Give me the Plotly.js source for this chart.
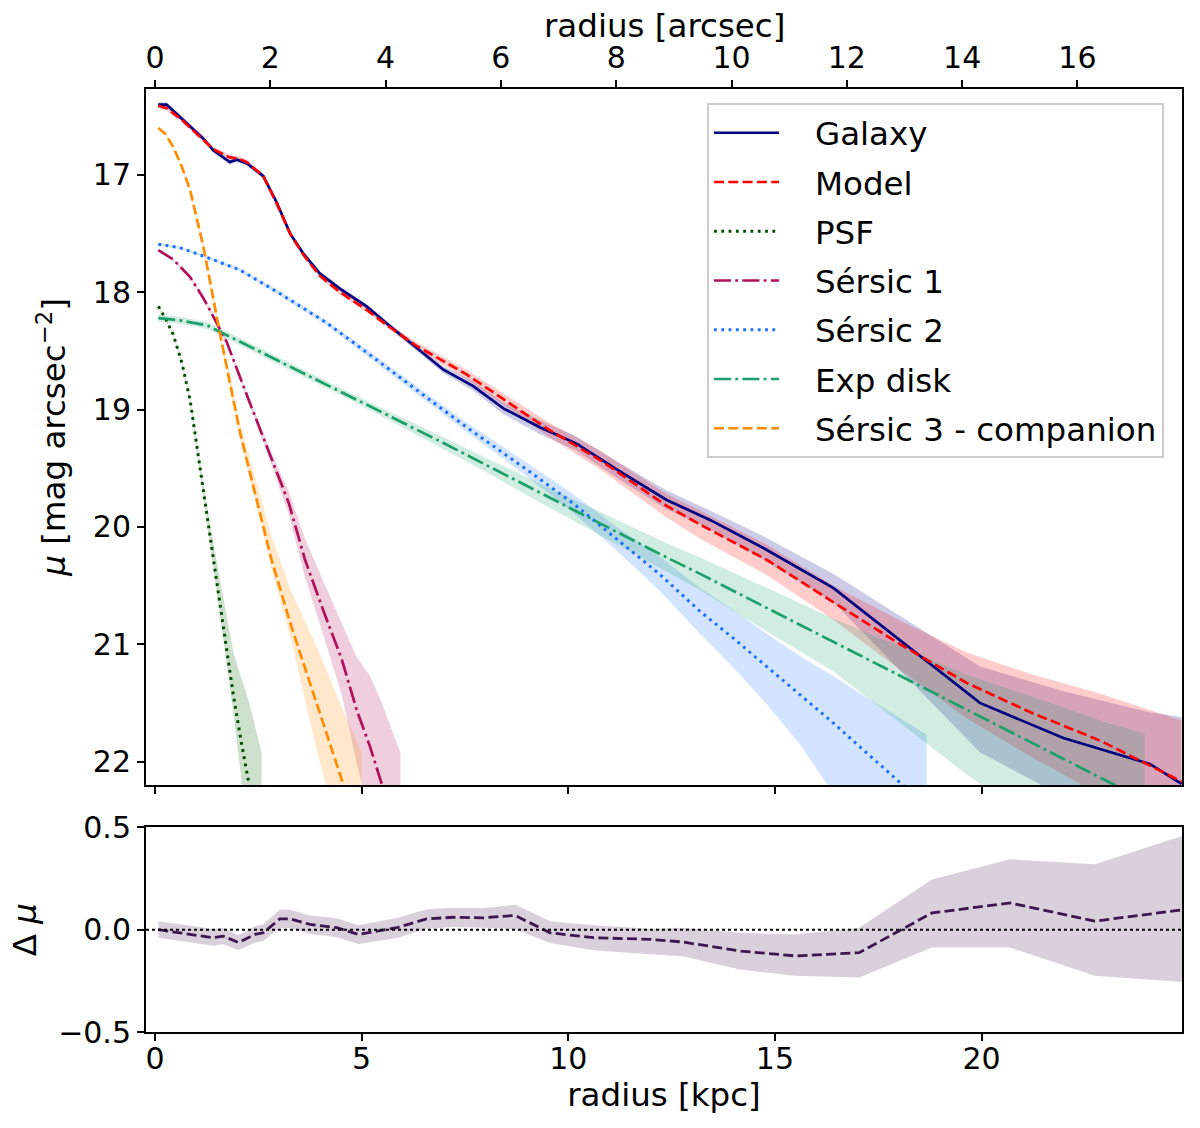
<!DOCTYPE html>
<html>
<head>
<meta charset="utf-8">
<script src="https://cdn.plot.ly/plotly-3.0.1.min.js"></script>
<style>body{margin:0;background:#fff}#profile{width:1200px;height:1128px}</style>
</head>
<body>
<div id="profile"></div>
<script>
/***** surface brightness profiles, radius in kpc, mu in mag/arcsec^2 *****/
// eb = error towards brighter (smaller mu), ef = error towards fainter
var gal_r  = [0.08, 0.28, 0.65, 1.17, 1.41, 1.81, 1.98, 2.22, 2.62, 2.94, 3.27, 3.59, 3.99, 4.48, 5.12, 5.69, 6.98, 7.70, 8.43, 9.31, 10.20, 11.17, 12.38, 13.43, 14.72, 16.41, 19.96, 21.98, 24.07, 24.84];
var gal_mu = [16.40, 16.40, 16.52, 16.69, 16.79, 16.89, 16.87, 16.90, 17.01, 17.23, 17.50, 17.67, 17.84, 17.97, 18.12, 18.29, 18.66, 18.80, 18.99, 19.15, 19.29, 19.51, 19.77, 19.94, 20.18, 20.52, 21.50, 21.80, 22.02, 22.19];
var gal_eb = [0.02, 0.02, 0.02, 0.02, 0.02, 0.02, 0.02, 0.02, 0.02, 0.02, 0.02, 0.02, 0.02, 0.02, 0.02, 0.02, 0.03, 0.04, 0.05, 0.06, 0.06, 0.07, 0.08, 0.08, 0.10, 0.12, 0.31, 0.40, 0.44, 0.57];
var gal_ef = [0.02, 0.02, 0.02, 0.02, 0.02, 0.02, 0.02, 0.02, 0.02, 0.02, 0.02, 0.02, 0.02, 0.02, 0.02, 0.02, 0.03, 0.04, 0.05, 0.06, 0.06, 0.07, 0.08, 0.08, 0.10, 0.12, 0.42, 0.50, 0.60, 0.70];

var mod_r  = [0.08, 0.28, 0.65, 1.17, 1.41, 1.81, 2.02, 2.22, 2.62, 2.94, 3.27, 3.59, 3.99, 4.48, 5.12, 5.69, 6.30, 7.54, 9.48, 10.77, 12.38, 13.19, 14.80, 16.41, 18.03, 19.64, 21.25, 22.86, 24.84];
var mod_mu = [16.41, 16.43, 16.53, 16.70, 16.78, 16.85, 16.86, 16.89, 17.01, 17.24, 17.50, 17.68, 17.86, 18.00, 18.15, 18.30, 18.45, 18.70, 19.16, 19.43, 19.82, 19.98, 20.28, 20.64, 21.00, 21.33, 21.59, 21.82, 22.17];
var mod_eb = [0.02, 0.02, 0.02, 0.02, 0.02, 0.02, 0.02, 0.02, 0.02, 0.02, 0.02, 0.02, 0.02, 0.02, 0.02, 0.02, 0.03, 0.04, 0.06, 0.08, 0.10, 0.12, 0.13, 0.14, 0.20, 0.26, 0.33, 0.40, 0.52];
var mod_ef = [0.02, 0.02, 0.02, 0.02, 0.02, 0.02, 0.02, 0.02, 0.02, 0.02, 0.02, 0.02, 0.02, 0.02, 0.02, 0.02, 0.03, 0.04, 0.06, 0.08, 0.10, 0.12, 0.13, 0.15, 0.22, 0.30, 0.38, 0.46, 0.60];

var psf_r  = [0.08, 0.25, 0.44, 0.65, 0.85, 1.05, 1.17, 1.41, 1.65, 1.89, 2.09, 2.28, 2.58];
var psf_mu = [18.12, 18.22, 18.36, 18.60, 18.92, 19.40, 19.70, 20.28, 20.85, 21.42, 21.84, 22.20, 22.77];
var psf_eb = [0.01, 0.01, 0.01, 0.02, 0.03, 0.05, 0.07, 0.15, 0.24, 0.36, 0.55, 0.70, 0.84];
var psf_ef = [0.01, 0.01, 0.01, 0.02, 0.03, 0.04, 0.05, 0.08, 0.10, 0.15, 0.30, 0.50, 0.60];

var ser1_r  = [0.08, 0.44, 0.85, 1.17, 1.37, 1.73, 2.27, 2.80, 3.24, 3.63, 4.07, 4.52, 4.88, 5.20, 5.49, 5.94];
var ser1_mu = [17.64, 17.72, 17.87, 18.05, 18.18, 18.42, 18.92, 19.40, 19.80, 20.28, 20.71, 21.13, 21.56, 21.87, 22.20, 22.70];
var ser1_eb = [0.01, 0.01, 0.01, 0.015, 0.02, 0.02, 0.02, 0.05, 0.10, 0.18, 0.25, 0.30, 0.45, 0.60, 0.70, 0.77];
var ser1_ef = [0.01, 0.01, 0.01, 0.015, 0.02, 0.02, 0.02, 0.05, 0.10, 0.15, 0.21, 0.30, 0.45, 0.60, 0.60, 0.60];

var ser2_r  = [0.08, 0.60, 1.09, 2.06, 3.02, 4.15, 5.00, 5.93, 6.70, 7.54, 8.40, 9.15, 10.12, 11.17, 12.20, 13.19, 14.00, 14.80, 15.60, 16.41, 17.20, 18.10, 18.67];
var ser2_mu = [17.59, 17.62, 17.68, 17.81, 18.01, 18.26, 18.48, 18.73, 18.93, 19.15, 19.36, 19.55, 19.80, 20.10, 20.40, 20.72, 20.95, 21.19, 21.43, 21.67, 21.92, 22.20, 22.38];
var ser2_eb = [0.01, 0.01, 0.01, 0.015, 0.02, 0.02, 0.025, 0.03, 0.035, 0.04, 0.05, 0.06, 0.08, 0.10, 0.15, 0.20, 0.24, 0.28, 0.33, 0.40, 0.47, 0.55, 0.61];
var ser2_ef = [0.01, 0.01, 0.01, 0.015, 0.02, 0.02, 0.025, 0.03, 0.035, 0.04, 0.05, 0.06, 0.08, 0.10, 0.14, 0.19, 0.25, 0.32, 0.42, 0.60, 0.70, 0.80, 0.85];

var disk_r  = [0.08, 0.60, 1.25, 1.65, 2.50, 3.67, 4.80, 5.93, 6.90, 8.00, 9.15, 10.77, 12.38, 13.19, 14.80, 16.41, 18.03, 19.64, 21.25, 23.03, 23.95];
var disk_mu = [18.22, 18.24, 18.28, 18.35, 18.50, 18.70, 18.90, 19.10, 19.27, 19.47, 19.68, 19.97, 20.26, 20.40, 20.69, 20.98, 21.27, 21.56, 21.85, 22.17, 22.33];
var disk_eb = [0.03, 0.03, 0.03, 0.03, 0.03, 0.03, 0.03, 0.04, 0.05, 0.06, 0.08, 0.10, 0.12, 0.14, 0.17, 0.20, 0.25, 0.30, 0.40, 0.50, 0.57];
var disk_ef = [0.03, 0.03, 0.03, 0.03, 0.03, 0.03, 0.03, 0.04, 0.05, 0.06, 0.08, 0.10, 0.12, 0.14, 0.20, 0.25, 0.40, 0.55, 0.65, 0.75, 0.80];

var ser3_r  = [0.08, 0.25, 0.44, 0.65, 0.85, 1.17, 1.37, 1.57, 2.06, 2.82, 3.30, 3.91, 4.57, 5.00];
var ser3_mu = [16.60, 16.65, 16.76, 16.93, 17.13, 17.61, 17.98, 18.35, 19.20, 20.28, 20.85, 21.50, 22.20, 22.67];
var ser3_eb = [0.01, 0.01, 0.01, 0.01, 0.02, 0.02, 0.03, 0.04, 0.08, 0.20, 0.30, 0.48, 0.62, 0.74];
var ser3_ef = [0.01, 0.01, 0.01, 0.01, 0.02, 0.02, 0.03, 0.04, 0.05, 0.08, 0.12, 0.40, 0.56, 0.56];

/***** residuals (galaxy - model) *****/
var res_r  = [0.08, 0.44, 0.85, 1.41, 1.65, 2.02, 2.42, 2.62, 3.02, 3.27, 3.75, 4.40, 4.92, 5.36, 5.85, 6.57, 7.22, 7.94, 8.71, 9.56, 10.61, 11.98, 12.77, 14.15, 15.49, 17.04, 18.80, 20.69, 22.74, 24.92];
var res_mu = [0.0, -0.011, -0.023, -0.039, -0.031, -0.063, -0.023, -0.015, 0.053, 0.053, 0.026, 0.01, -0.023, -0.006, 0.01, 0.053, 0.061, 0.058, 0.07, -0.015, -0.039, -0.047, -0.06, -0.104, -0.128, -0.112, 0.082, 0.131, 0.042, 0.099];
var res_hi = [0.042, 0.03, 0.018, 0.003, 0.01, -0.028, 0.017, 0.027, 0.098, 0.098, 0.07, 0.056, 0.022, 0.04, 0.057, 0.10, 0.108, 0.105, 0.123, 0.042, 0.022, 0.005, 0.01, -0.015, -0.023, 0.01, 0.246, 0.344, 0.32, 0.463];
var res_lo = [-0.039, -0.05, -0.062, -0.078, -0.07, -0.10, -0.063, -0.055, 0.008, 0.008, -0.02, -0.037, -0.07, -0.055, -0.04, 0.005, 0.013, 0.01, 0.002, -0.065, -0.10, -0.12, -0.13, -0.194, -0.225, -0.233, -0.087, -0.087, -0.225, -0.257];

var KPC_PER_ARCSEC = 1.395;
var xRange = [-0.218, 24.85];

var DASH = '10px,4.3px';
var DOT = '2.8px,4.5px';
var DASHDOT = '17px,4.3px,2.8px,4.3px';
var PAD = '\u00a0\u00a0\u00a0';   // gap between legend line and label

function bandLoHi(r, lo, hi, color, xa, ya, group) {
  return {
    x: r.concat(r.slice().reverse()),
    y: lo.concat(hi.slice().reverse()),
    xaxis: xa, yaxis: ya,
    type: 'scatter', mode: 'lines', fill: 'toself',
    fillcolor: color, line: {width: 0},
    hoverinfo: 'skip', showlegend: false, legendgroup: group
  };
}

function band(r, mu, eb, ef, color, group) {
  var lo = mu.map(function(m, i) { return m - eb[i]; });
  var hi = mu.map(function(m, i) { return m + ef[i]; });
  return bandLoHi(r, lo, hi, color, 'x', 'y', group);
}

function curve(r, mu, name, color, dash, width) {
  return {
    x: r, y: mu, type: 'scatter', mode: 'lines', name: PAD + name,
    legendgroup: name,
    line: {color: color, width: width || 2.7, dash: dash}
  };
}

var data = [
  band(gal_r, gal_mu, gal_eb, gal_ef, 'rgba(0,0,128,0.2)', 'Galaxy'),
  band(mod_r, mod_mu, mod_eb, mod_ef, 'rgba(255,0,0,0.2)', 'Model'),
  band(psf_r, psf_mu, psf_eb, psf_ef, 'rgba(0,100,0,0.2)', 'PSF'),
  band(ser1_r, ser1_mu, ser1_eb, ser1_ef, 'rgba(176,16,90,0.2)', 'Sérsic 1'),
  band(ser2_r, ser2_mu, ser2_eb, ser2_ef, 'rgba(30,120,255,0.2)', 'Sérsic 2'),
  band(disk_r, disk_mu, disk_eb, disk_ef, 'rgba(27,160,106,0.2)', 'Exp disk'),
  band(ser3_r, ser3_mu, ser3_eb, ser3_ef, 'rgba(255,140,0,0.2)', 'Sérsic 3 - companion'),
  curve(gal_r, gal_mu, 'Galaxy', '#000080', 'solid'),
  curve(mod_r, mod_mu, 'Model', '#ff0000', DASH),
  curve(psf_r, psf_mu, 'PSF', '#004d00', DOT, 3),
  curve(ser1_r, ser1_mu, 'Sérsic 1', '#b0105a', DASHDOT),
  curve(ser2_r, ser2_mu, 'Sérsic 2', '#1a70ff', DOT, 3),
  curve(disk_r, disk_mu, 'Exp disk', '#1ba06a', DASHDOT),
  curve(ser3_r, ser3_mu, 'Sérsic 3 - companion', '#ff8c00', DASH),
  // empty trace so the arcsec axis gets its own overlay
  {x: [], y: [], xaxis: 'x2', yaxis: 'y', type: 'scatter', showlegend: false},
  bandLoHi(res_r, res_lo, res_hi, 'rgba(63,22,80,0.2)', 'x3', 'y3', 'res'),
  {x: res_r, y: res_mu, xaxis: 'x3', yaxis: 'y3', type: 'scatter', mode: 'lines',
   showlegend: false, line: {color: '#3f1650', width: 2.8, dash: DASH}}
];

var axisStyle = {
  ticks: 'outside', ticklen: 7, tickwidth: 2, tickcolor: 'black',
  showline: true, linecolor: 'black', linewidth: 2,
  showgrid: false, zeroline: false
};

function ax(extra) {
  return Object.assign({}, axisStyle, extra);
}

var layout = {
  width: 1200, height: 1128,
  margin: {l: 146, r: 18, t: 89, b: 96},
  paper_bgcolor: 'white', plot_bgcolor: 'white',
  font: {family: 'DejaVu Sans', size: 30, color: 'black'},
  showlegend: true,
  legend: {
    x: 0.5415, y: 0.985, xanchor: 'left', yanchor: 'top',
    bgcolor: 'rgba(255,255,255,0.8)', bordercolor: '#cccccc', borderwidth: 2,
    font: {size: 32.5}, itemwidth: 65, traceorder: 'grouped', tracegroupgap: 4
  },
  xaxis: ax({domain: [0, 1], anchor: 'y', range: xRange, tick0: 0, dtick: 5, showticklabels: false}),
  xaxis2: ax({overlaying: 'x', side: 'top', anchor: 'y', tick0: 0, dtick: 2,
    range: [xRange[0] / KPC_PER_ARCSEC, xRange[1] / KPC_PER_ARCSEC]}),
  yaxis: ax({domain: [0.2619, 1], anchor: 'x', range: [22.2, 16.267], tick0: 17, dtick: 1, mirror: true,
    title: {text: '<i>μ</i> [mag arcsec<sup>−2</sup>]', font: {size: 32.5}, standoff: 17}}),
  xaxis3: ax({domain: [0, 1], anchor: 'y3', range: xRange, tick0: 0, dtick: 5, mirror: true,
    ticklabelstandoff: -8,
    title: {text: 'radius [kpc]', font: {size: 32.5}, standoff: 4}}),
  yaxis3: ax({domain: [0, 0.2169], anchor: 'x3', range: [-0.5, 0.5], tick0: 0, dtick: 0.5,
    tickformat: '.1f', mirror: true, title: {text: 'Δ <i>μ</i>', font: {size: 32.5}, standoff: 12}}),
  // top axis title sits closer to its tick labels than an axis title can
  annotations: [{
    text: 'radius [arcsec]', xref: 'paper', yref: 'paper', x: 0.5, y: 1.067,
    xanchor: 'center', yanchor: 'middle', showarrow: false, font: {size: 32.5}
  }],
  shapes: [{
    type: 'line', xref: 'x3 domain', yref: 'y3', x0: 0, x1: 1, y0: 0, y1: 0,
    line: {color: 'black', width: 2, dash: '3px,3px'}
  }]
};

var config = {staticPlot: true, displayModeBar: false};
Plotly.newPlot('profile', data, layout, config);
</script>
</body>
</html>
